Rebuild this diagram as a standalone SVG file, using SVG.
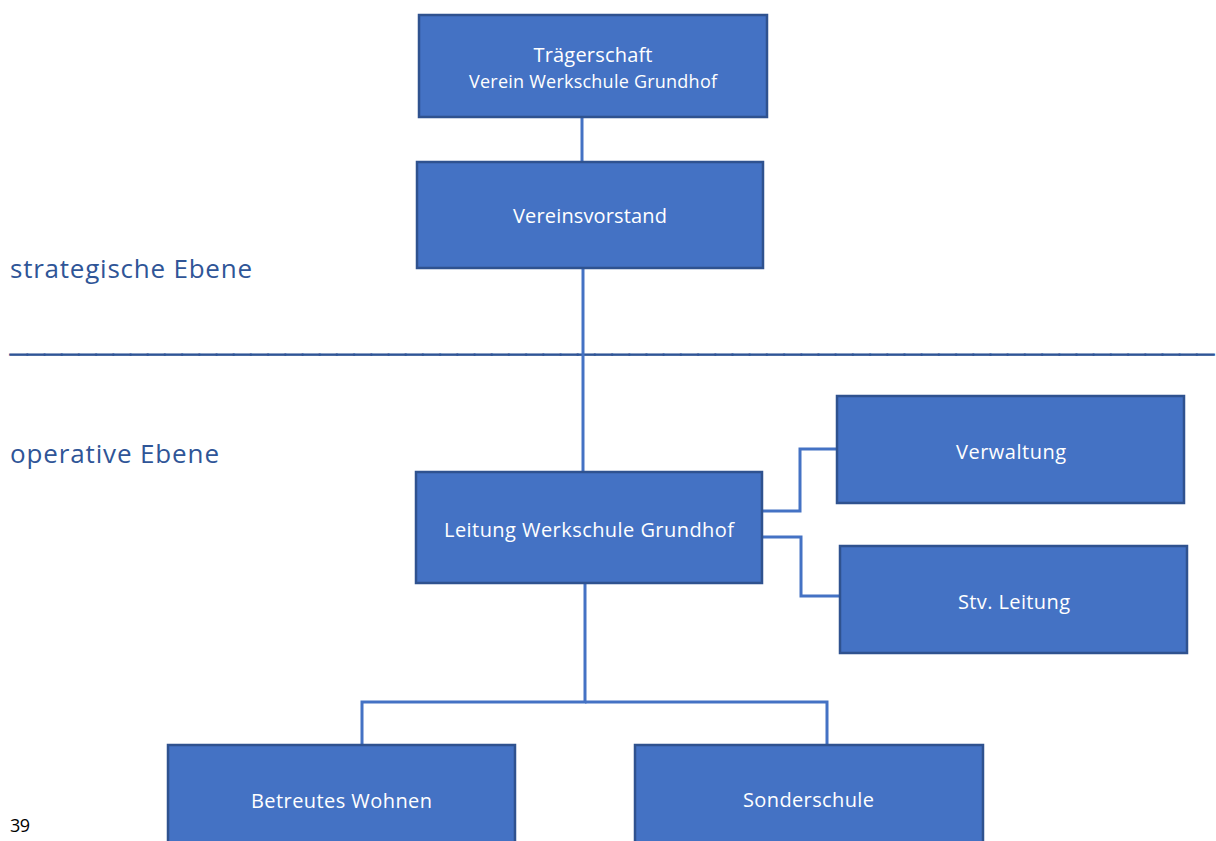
<svg xmlns="http://www.w3.org/2000/svg" width="1216" height="841" viewBox="0 0 1216 841">
<style>
.box{fill:#4472C4;stroke:#2F528F;stroke-width:2.5}
.lbl{font-family:"Open Sans","Noto Sans",sans-serif;font-size:20px;fill:#FFFFFF;text-anchor:middle}
.sub{font-size:18px}
.lvl{font-family:"Open Sans","Noto Sans",sans-serif;font-size:26px;fill:#2F5597}
.con{fill:none;stroke:#4472C4;stroke-width:3}
</style>
<rect width="1216" height="841" fill="#FFFFFF"/>
<text class="lvl" x="10" y="278" textLength="242">strategische Ebene</text>
<text class="lvl" x="10" y="463" textLength="209">operative Ebene</text>
<text x="10" y="351" font-family="Liberation Sans, Arial, sans-serif" font-size="31" font-weight="bold" fill="#2F5597" stroke="#2F5597" stroke-width="1.2" textLength="1204">______________________________________________________________________</text>
<text x="10" y="832" font-family="Open Sans, Noto Sans, sans-serif" font-size="18" fill="#000000" textLength="20">39</text>
<g id="connectors">
<path class="con" d="M582 117V162"/>
<path class="con" d="M583 268V472"/>
<path class="con" d="M762 511H800V449H837"/>
<path class="con" d="M762 537H801V596H840"/>
<path class="con" d="M585 583V702H362V745"/>
<path class="con" d="M585 702H827V745"/>
</g>
<g id="traegerschaft">
<rect class="box" x="419" y="15" width="348" height="102"/>
<text class="lbl" x="593" y="62" textLength="119">Trägerschaft</text>
<text class="lbl sub" x="593" y="88" textLength="248">Verein Werkschule Grundhof</text>
</g>
<g id="vereinsvorstand">
<rect class="box" x="417" y="162" width="346" height="106"/>
<text class="lbl" x="590" y="223" textLength="154">Vereinsvorstand</text>
</g>
<g id="leitung">
<rect class="box" x="416" y="472" width="346" height="111"/>
<text class="lbl" x="589" y="537" textLength="290">Leitung Werkschule Grundhof</text>
</g>
<g id="verwaltung">
<rect class="box" x="837" y="396" width="347" height="107"/>
<text class="lbl" x="1011" y="459" textLength="110">Verwaltung</text>
</g>
<g id="stv-leitung">
<rect class="box" x="840" y="546" width="347" height="107"/>
<text class="lbl" x="1014" y="609" textLength="112">Stv. Leitung</text>
</g>
<g id="betreutes-wohnen">
<rect class="box" x="168" y="745" width="347" height="110"/>
<text class="lbl" x="341.5" y="808" textLength="181">Betreutes Wohnen</text>
</g>
<g id="sonderschule">
<rect class="box" x="635" y="745" width="348" height="110"/>
<text class="lbl" x="808.5" y="807" textLength="131">Sonderschule</text>
</g>
</svg>
